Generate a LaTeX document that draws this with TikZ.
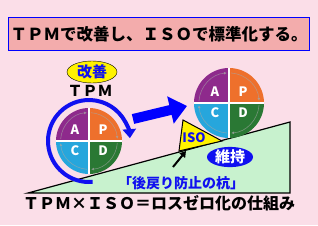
\documentclass[tikz,border=0pt]{standalone}
\usepackage{fontspec}
\setmainfont{Noto Sans CJK JP}
\usepackage{tikz}
\usetikzlibrary{arrows.meta, shapes.geometric, calc}

\definecolor{bgpink}{RGB}{251,222,232}
\definecolor{titlefill}{RGB}{243,172,172}
\definecolor{slopegreen}{RGB}{200,242,206}
\definecolor{qA}{RGB}{142,42,140}
\definecolor{qP}{RGB}{238,112,44}
\definecolor{qC}{RGB}{38,166,220}
\definecolor{qD}{RGB}{42,120,52}
\definecolor{isoblue}{RGB}{16,16,240}

\begin{document}
\begin{tikzpicture}[x=1pt, y=-1pt, >=latex,
    jp/.style={inner sep=0pt, font=\bfseries\fontsize{#1}{#1}\selectfont},
    letter/.style={text=white, inner sep=0pt, font=\bfseries\fontsize{13}{13}\selectfont}]
    \useasboundingbox (0,0) rectangle (318,225);
    \fill[bgpink] (0,0) rectangle (318,225);

    \node (title) [draw=blue, line width=1.5pt, fill=titlefill, minimum width=301pt, minimum height=33pt, jp=16.5] at (159,34) {ＴＰＭで改善し、ＩＳＯで標準化する。};

    % slope
    \coordinate (foot) at (28,193);
    \coordinate (corner) at (290,193);
    \coordinate (top) at (290,122);
    \filldraw[fill=slopegreen, draw=black, line width=1.2pt] (foot) -- (corner) -- (top) -- cycle;

    % PDCA wheels
    \foreach \w/\cx/\cy/\r in {left/89/141/33, right/229/103/35} {
        \coordinate (\w) at (\cx,\cy);
        \fill[qA] (\w) -- ++(180:\r) arc[start angle=180, end angle=270, radius=\r] -- cycle;
        \fill[qP] (\w) -- ++(270:\r) arc[start angle=270, end angle=360, radius=\r] -- cycle;
        \fill[qD] (\w) -- ++(0:\r) arc[start angle=0, end angle=90, radius=\r] -- cycle;
        \fill[qC] (\w) -- ++(90:\r) arc[start angle=90, end angle=180, radius=\r] -- cycle;
        \foreach \a in {0,90,180,270}
            \draw[black!35, opacity=0.6, line width=0.6pt, -{Latex[length=3pt,width=3pt]}] (\w) ++(\a+4:0.86*\r) arc[start angle=\a+4, end angle=\a+86, radius=0.86*\r];
        \draw[white, line width=1.8pt] (\w) ++(-\r,0) -- ++(2*\r,0);
        \draw[white, line width=1.8pt] (\w) ++(0,-\r) -- ++(0,2*\r);
        \node (\w-A) [letter] at ($(\w)+(-14,-11)$) {A};
        \node (\w-P) [letter] at ($(\w)+(14,-11)$) {P};
        \node (\w-C) [letter] at ($(\w)+(-14,10)$) {C};
        \node (\w-D) [letter] at ($(\w)+(14,10)$) {D};
    }

    % circular arrow round the left wheel
    \draw[isoblue, line width=4pt, -{Triangle[length=9pt,width=13pt]}] (left) ++(-275:41) arc[start angle=-275, end angle=-4, radius=41];

    \node (kaizen) [ellipse, draw, fill=yellow, minimum width=50pt, minimum height=22pt, text=isoblue, jp=15] at (92,72) {改善};
    \node (tpm) [jp=15] at (90,91) {ＴＰＭ};

    % push up the slope
    \coordinate (push) at (133,119);
    \coordinate (lift) at (187,106);
    \draw[blue, line width=10pt, -{Triangle[length=17pt,width=27pt]}] (push) -- (lift);

    % stopper
    \coordinate (iso-a) at (179,151);
    \coordinate (iso-b) at (183,120);
    \coordinate (iso-c) at (222,141);
    \filldraw[fill=yellow, draw=black, line width=1pt] (iso-a) -- (iso-b) -- (iso-c) -- cycle;
    \node (iso) [text=isoblue, jp=13] at (194,138) {ISO};

    \node (iji) [ellipse, fill=isoblue, minimum width=46pt, minimum height=19pt, text=white, jp=15] at (230,157) {維持};

    \node (peg) [text=isoblue, jp=14] at (181,183) {「後戻り防止の杭」};
    \coordinate (peg-tail) at (173,167);
    \coordinate (peg-tip) at (186,151);
    \draw[-{Triangle[length=6pt,width=7pt]}, line width=2pt] (peg-tail) -- (peg-tip);

    \node (bottom) [jp=16] at (159,203) {ＴＰＭ×ＩＳＯ＝ロスゼロ化の仕組み};
\end{tikzpicture}
\end{document}
